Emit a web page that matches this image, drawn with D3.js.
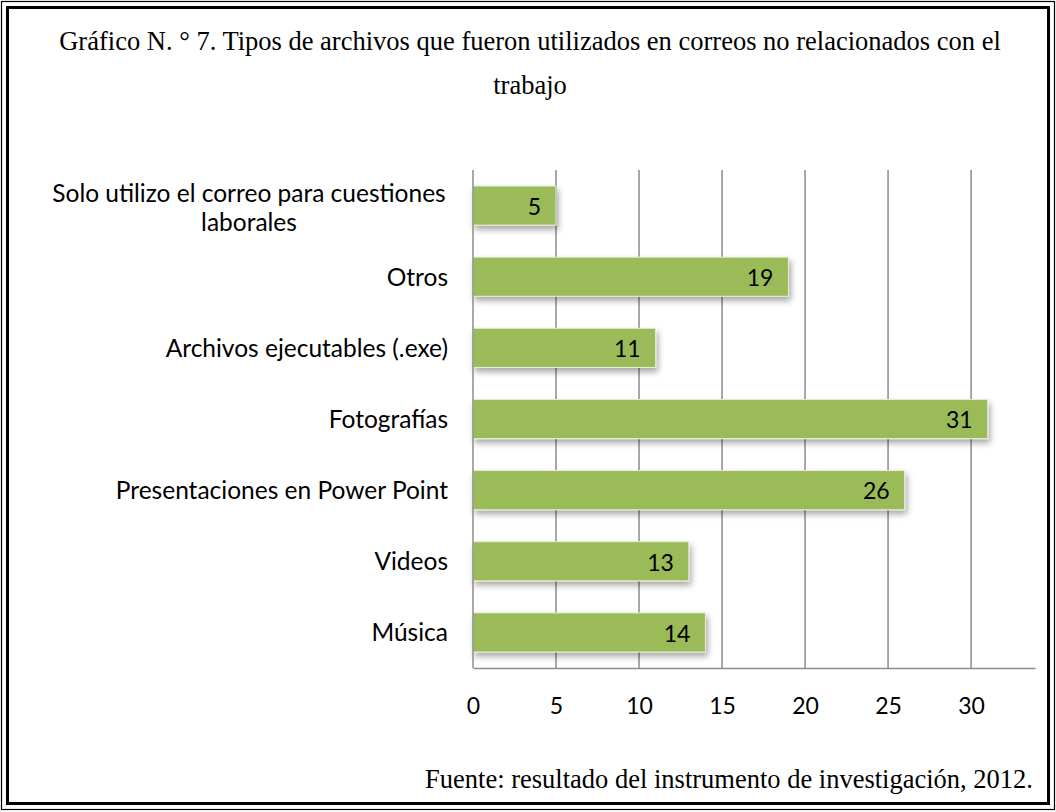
<!DOCTYPE html>
<html>
<head>
<meta charset="utf-8">
<script src="https://cdn.jsdelivr.net/npm/d3@7"></script>
<style>
  body { margin: 0; background: #fff; }
  svg text { fill: #000; }
</style>
</head>
<body>
<div id="wrapper"></div>
<script>
const categories = [
  "Solo utilizo el correo para cuestiones laborales",
  "Otros",
  "Archivos ejecutables (.exe)",
  "Fotografías",
  "Presentaciones en Power Point",
  "Videos",
  "Música",
];
const values = [5, 19, 11, 31, 26, 13, 14];
const tickValues = [0, 5, 10, 15, 20, 25, 30];
const titleLines = [
  "Gráfico N. ° 7. Tipos de archivos que fueron utilizados en correos no relacionados con el",
  "trabajo",
];
const sourceText = "Fuente: resultado del instrumento de investigación, 2012.";

function drawBarChart() {
  const dataset = categories.map((c, i) => ({ category: c, value: values[i] }));

  let dimensions = {
    width: 1056,
    height: 812,
    margin: { top: 170, right: 21, bottom: 144, left: 473 },
  };
  dimensions.boundedWidth =
    dimensions.width - dimensions.margin.left - dimensions.margin.right;
  dimensions.boundedHeight =
    dimensions.height - dimensions.margin.top - dimensions.margin.bottom;

  const sansFont = "Lato, 'Open Sans', sans-serif";
  const serifFont = "'Liberation Serif', 'Times New Roman', serif";

  const wrapper = d3
    .select("#wrapper")
    .append("svg")
    .attr("width", dimensions.width)
    .attr("height", dimensions.height);

  // double frame
  wrapper.append("rect")
    .attr("x", 1.5).attr("y", 1.5)
    .attr("width", dimensions.width - 3).attr("height", dimensions.height - 4)
    .attr("fill", "none").attr("stroke", "#000").attr("stroke-width", 1.2);
  wrapper.append("rect")
    .attr("x", 7.5).attr("y", 7.5)
    .attr("width", dimensions.width - 15).attr("height", dimensions.height - 16)
    .attr("fill", "none").attr("stroke", "#000").attr("stroke-width", 3);

  const defs = wrapper.append("defs");
  const shadow = defs.append("filter").attr("id", "shadow")
    .attr("x", "-5%").attr("y", "-20%").attr("width", "115%").attr("height", "160%");
  shadow.append("feDropShadow")
    .attr("dx", 2).attr("dy", 4).attr("stdDeviation", 3)
    .attr("flood-color", "#000").attr("flood-opacity", 0.35);

  const bounds = wrapper
    .append("g")
    .attr("transform", `translate(${dimensions.margin.left},${dimensions.margin.top})`);

  const xScale = d3.scaleLinear()
    .domain([0, 33.85])
    .range([0, dimensions.boundedWidth]);

  const yScale = d3.scaleBand()
    .domain(categories)
    .range([0, dimensions.boundedHeight])
    .paddingInner(0.45)
    .paddingOuter(0.225);

  // gridlines
  bounds.append("g")
    .selectAll("line")
    .data(tickValues.filter((d) => d > 0))
    .join("line")
    .attr("x1", (d) => xScale(d)).attr("x2", (d) => xScale(d))
    .attr("y1", 0).attr("y2", dimensions.boundedHeight)
    .attr("stroke", "#8c8c8c").attr("stroke-width", 1.5);

  // bars
  bounds.append("g")
    .selectAll("rect")
    .data(dataset)
    .join("rect")
    .attr("x", xScale(0))
    .attr("y", (d) => yScale(d.category))
    .attr("width", (d) => xScale(d.value) - xScale(0))
    .attr("height", yScale.bandwidth())
    .attr("fill", "#9bbb59")
    .attr("stroke", "#e6eed6")
    .attr("stroke-width", 1)
    .attr("filter", "url(#shadow)");

  // value labels
  bounds.append("g")
    .selectAll("text")
    .data(dataset)
    .join("text")
    .attr("x", (d) => xScale(d.value) - 15)
    .attr("y", (d) => yScale(d.category) + yScale.bandwidth() / 2 + 1)
    .attr("dy", "0.36em")
    .attr("text-anchor", "end")
    .style("font-family", sansFont)
    .style("font-size", "23px")
    .text((d) => d.value);

  // y axis line
  bounds.append("line")
    .attr("x1", 0).attr("x2", 0)
    .attr("y1", 0).attr("y2", dimensions.boundedHeight)
    .attr("stroke", "#8c8c8c").attr("stroke-width", 1.5);

  // x axis
  const xAxisGenerator = d3.axisBottom(xScale)
    .tickValues(tickValues)
    .tickSize(0)
    .tickPadding(30);
  const xAxis = bounds.append("g")
    .attr("transform", `translate(0,${dimensions.boundedHeight})`)
    .call(xAxisGenerator);
  xAxis.select(".domain")
    .attr("stroke", "#8c8c8c").attr("stroke-width", 1.5);
  xAxis.selectAll("text")
    .style("font-family", sansFont)
    .style("font-size", "23px")
    .attr("fill", "#000");

  // category labels
  const labelGroup = bounds.append("g");
  dataset.forEach((d) => {
    const cy = yScale(d.category) + yScale.bandwidth() / 2;
    const t = labelGroup.append("text")
      .style("font-family", sansFont)
      .style("font-size", "24.5px");
    if (d.category.length > 35) {
      const words = d.category.split(" ");
      const first = words.slice(0, -1).join(" ");
      const second = words[words.length - 1];
      t.attr("text-anchor", "middle");
      t.append("tspan").attr("x", -224).attr("y", cy - 12).attr("dy", "0.36em").text(first);
      t.append("tspan").attr("x", -224).attr("y", cy + 17).attr("dy", "0.36em").text(second);
    } else {
      t.attr("text-anchor", "end")
        .attr("x", -25).attr("y", cy).attr("dy", "0.36em")
        .text(d.category);
    }
  });

  // title
  wrapper.append("g")
    .selectAll("text")
    .data(titleLines)
    .join("text")
    .attr("x", dimensions.width / 2 + 2)
    .attr("y", (d, i) => 50 + i * 44)
    .attr("text-anchor", "middle")
    .style("font-family", serifFont)
    .style("font-size", "26.5px")
    .text((d) => d);

  // source
  wrapper.append("text")
    .attr("x", 1033)
    .attr("y", 788)
    .attr("text-anchor", "end")
    .style("font-family", serifFont)
    .style("font-size", "26.5px")
    .text(sourceText);
}

drawBarChart();
</script>
</body>
</html>
